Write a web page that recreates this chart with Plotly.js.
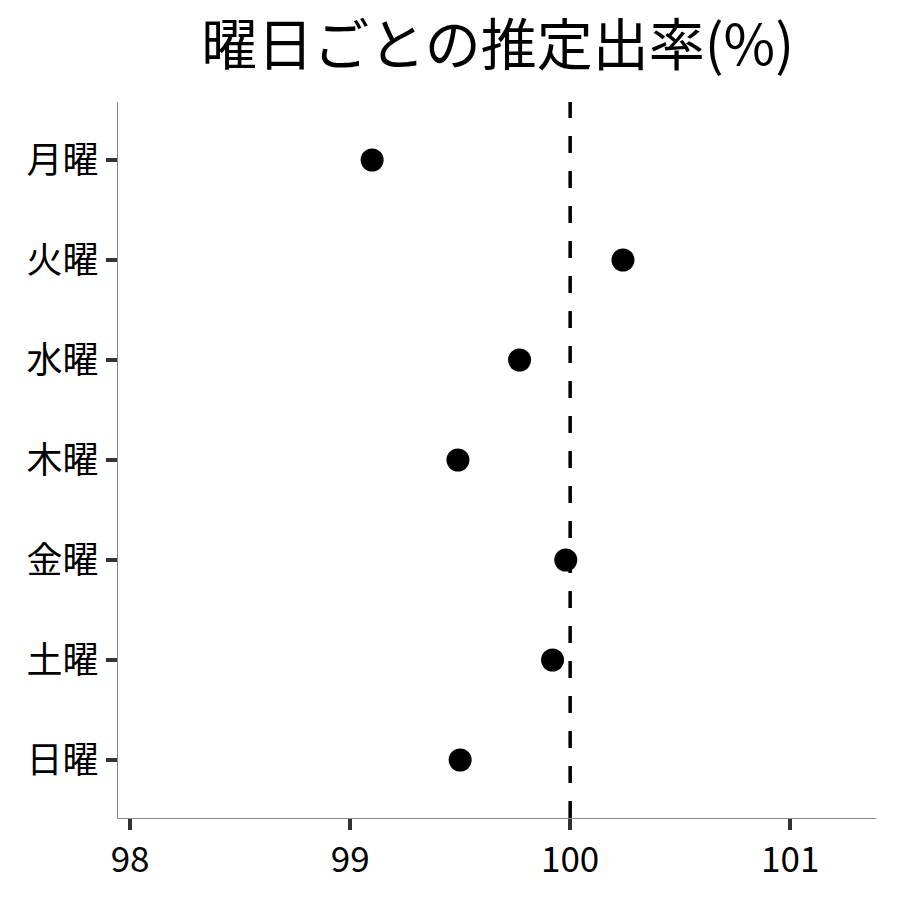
<!DOCTYPE html>
<html><head><meta charset="utf-8">
<script src="https://cdn.plot.ly/plotly-3.0.1.min.js"></script>
<style>body{margin:0;background:#fff}#c{width:900px;height:900px}</style>
</head><body><div id="c"></div>
<script>
const days = ["月曜","火曜","水曜","木曜","金曜","土曜","日曜"];
const rates = [99.10, 100.24, 99.77, 99.49, 99.98, 99.92, 99.50];
const refValue = 100;
const xTicks = [98, 99, 100, 101];

const font = "Noto Sans CJK JP, Noto Sans, sans-serif";
Plotly.newPlot("c", [
  {x:[refValue, refValue], y:[6.58, -0.58], mode:"lines", line:{color:"#000", width:3.5, dash:"17px,18px"}, hoverinfo:"skip"},
  {x:rates, y:days.map((d,i)=>i), mode:"markers", marker:{color:"#000", size:23}}
], {
  width:900, height:900, showlegend:false,
  paper_bgcolor:"#fff", plot_bgcolor:"#fff",
  margin:{l:118, r:24, t:102, b:82},
  title:{text:"曜日ごとの推定出率(%)", font:{family:font, size:56, color:"#000"}, x:0.553, xanchor:"center", y:0.95, yanchor:"middle"},
  xaxis:{range:[97.945, 101.39], tickvals:xTicks, ticktext:xTicks.map(String), showgrid:false, zeroline:false,
    showline:true, linecolor:"#888", linewidth:1.2, ticks:"outside", ticklen:11, tickwidth:4, tickcolor:"#333",
    tickfont:{family:font, size:35, color:"#000"}},
  yaxis:{range:[6.58, -0.58], tickvals:days.map((d,i)=>i), ticktext:days, showgrid:false, zeroline:false,
    showline:true, linecolor:"#888", linewidth:1.2, ticks:"outside", ticklen:11, tickwidth:4, tickcolor:"#333",
    tickfont:{family:font, size:36, color:"#000"}}
}, {staticPlot:true});
</script></body></html>
